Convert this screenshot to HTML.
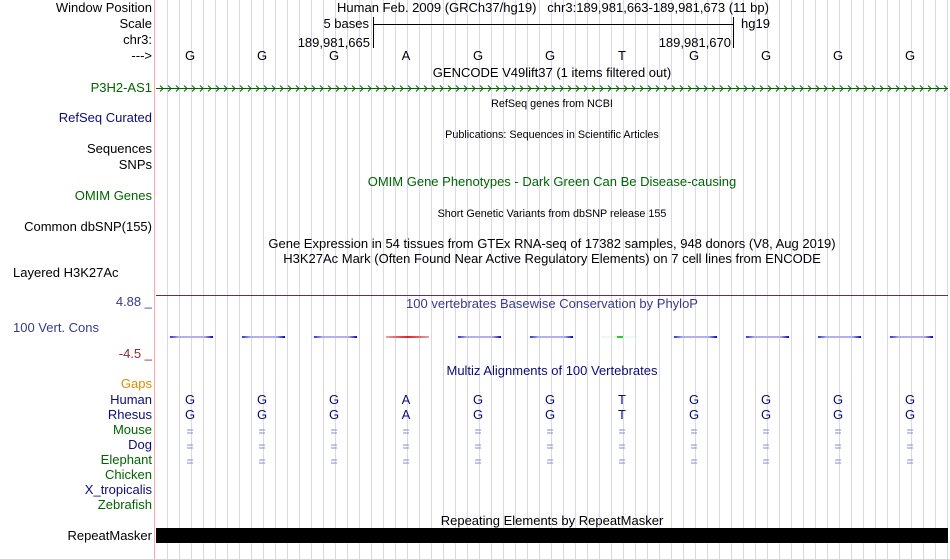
<!DOCTYPE html>
<html><head><meta charset="utf-8"><style>
html,body{margin:0;padding:0;background:#fff;width:950px;height:559px;overflow:hidden}
svg{display:block}
text{font-family:"Liberation Sans",sans-serif;font-size:13px}
.s{font-size:10.8px}
</style></head><body>
<svg width="950" height="559" viewBox="0 0 950 559" xmlns="http://www.w3.org/2000/svg">
<defs>
<linearGradient id="cb" x1="0" x2="1"><stop offset="0" stop-color="#3030e0"/><stop offset="0.2" stop-color="#b0b0f0"/><stop offset="0.8" stop-color="#b0b0f0"/><stop offset="1" stop-color="#0000e0"/></linearGradient>
<linearGradient id="cr" x1="0" x2="1"><stop offset="0" stop-color="#f0a0a0"/><stop offset="0.5" stop-color="#e02020"/><stop offset="1" stop-color="#f0a0a0"/></linearGradient>
</defs>
<g stroke="#d8d8f4" stroke-width="1" id="grid"></g>
<line x1="154.5" y1="0" x2="154.5" y2="559" stroke="#ffaaaa"/>
<g text-anchor="end" fill="#000">
<text x="152" y="12">Window Position</text>
<text x="152" y="28">Scale</text>
<text x="152" y="44">chr3:</text>
<text x="152" y="60">---&gt;</text>
<text x="152" y="92" fill="#006400">P3H2-AS1</text>
<text x="152" y="122" fill="#0c0c78">RefSeq Curated</text>
<text x="152" y="153">Sequences</text>
<text x="152" y="169">SNPs</text>
<text x="152" y="200" fill="#006400">OMIM Genes</text>
<text x="152" y="231">Common dbSNP(155)</text>
<text x="152" y="306" fill="#3a3a8c">4.88 _</text>
<text x="152" y="358" fill="#8c2a2a">-4.5 _</text>
<text x="152" y="388" fill="#e08a00">Gaps</text>
<text x="152" y="404" fill="#0c0c78">Human</text>
<text x="152" y="419" fill="#0c0c78">Rhesus</text>
<text x="152" y="434" fill="#006400">Mouse</text>
<text x="152" y="449" fill="#0c0c78">Dog</text>
<text x="152" y="464" fill="#006400">Elephant</text>
<text x="152" y="479" fill="#006400">Chicken</text>
<text x="152" y="494" fill="#0c0c78">X_tropicalis</text>
<text x="152" y="509" fill="#006400">Zebrafish</text>
<text x="152" y="540">RepeatMasker</text>
</g>
<text x="13" y="277">Layered H3K27Ac</text>
<text x="13" y="332" fill="#3a3a8c">100 Vert. Cons</text>
<g text-anchor="middle">
<text x="553" y="12">Human Feb. 2009 (GRCh37/hg19)&#160;&#160;&#160;chr3:189,981,663-189,981,673 (11 bp)</text>
<text x="552" y="77">GENCODE V49lift37 (1 items filtered out)</text>
<text x="552" y="107" class="s">RefSeq genes from NCBI</text>
<text x="552" y="138" class="s">Publications: Sequences in Scientific Articles</text>
<text x="552" y="186" fill="#006400">OMIM Gene Phenotypes - Dark Green Can Be Disease-causing</text>
<text x="552" y="217" class="s">Short Genetic Variants from dbSNP release 155</text>
<text x="552" y="248">Gene Expression in 54 tissues from GTEx RNA-seq of 17382 samples, 948 donors (V8, Aug 2019)</text>
<text x="552" y="263">H3K27Ac Mark (Often Found Near Active Regulatory Elements) on 7 cell lines from ENCODE</text>
<text x="552" y="308" fill="#3a3a8c">100 vertebrates Basewise Conservation by PhyloP</text>
<text x="552" y="375" fill="#0c0c78">Multiz Alignments of 100 Vertebrates</text>
<text x="552" y="525">Repeating Elements by RepeatMasker</text>
</g>
<text x="369" y="28" text-anchor="end">5 bases</text>
<text x="741" y="28">hg19</text>
<text x="370" y="47" text-anchor="end">189,981,665</text>
<text x="731" y="47" text-anchor="end">189,981,670</text>
<line x1="373.5" y1="17" x2="373.5" y2="48" stroke="#000"/>
<line x1="733.5" y1="17" x2="733.5" y2="48" stroke="#000"/>
<line x1="373" y1="24.5" x2="733" y2="24.5" stroke="#000"/>
<line x1="156" y1="88.5" x2="948" y2="88.5" stroke="#006400"/>
<g id="arrows" stroke="#006400" fill="none" stroke-width="1"></g>
<line x1="156" y1="295.5" x2="948" y2="295.5" stroke="#5a2d7a"/>
<g id="bases"></g>
<g id="cons"></g>
<rect x="156" y="528" width="792" height="15" fill="#000"/>
</svg>
<script>
var ns="http://www.w3.org/2000/svg";
function el(p,t,a,txt){var e=document.createElementNS(ns,t);for(var k in a)e.setAttribute(k,a[k]);if(txt)e.textContent=txt;document.getElementById(p).appendChild(e);}
for(var x=167;x<950;x+=12)el("grid","line",{x1:x+.5,y1:0,x2:x+.5,y2:559});
for(var x=160;x<946;x+=8)el("arrows","polyline",{points:(x)+",85.5 "+(x+3)+",88.5 "+x+",91.5"});
var b="GGGAGGTGGGG";
for(var i=0;i<11;i++){var cx=190+72*i;
el("bases","text",{x:cx,y:60,"text-anchor":"middle"},b[i]);
el("bases","text",{x:cx,y:404,"text-anchor":"middle",fill:"#0c0c78"},b[i]);
el("bases","text",{x:cx,y:419,"text-anchor":"middle",fill:"#0c0c78"},b[i]);
for(var j=0;j<3;j++){el("bases","line",{x1:cx-3,y1:430+15*j,x2:cx+3,y2:430+15*j,stroke:"#8888cc"});el("bases","line",{x1:cx-3,y1:433+15*j,x2:cx+3,y2:433+15*j,stroke:"#8888cc"});}
if(b[i]=="T"){el("cons","rect",{x:cx-21,y:336.5,width:37,height:1,fill:"#d8f4d8"});el("cons","rect",{x:cx-5,y:336,width:6,height:2,fill:"#20d020"});}
else el("cons","rect",{x:cx-20,y:336,width:43,height:2,fill:b[i]=="A"?"url(#cr)":"url(#cb)"});
}
</script>
</body></html>
